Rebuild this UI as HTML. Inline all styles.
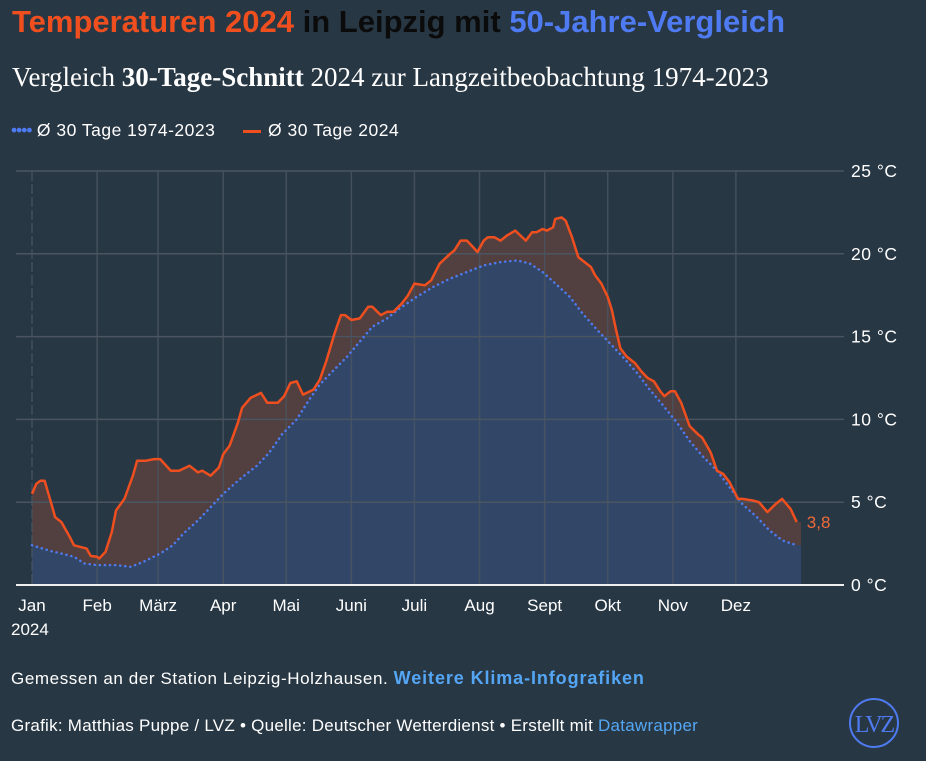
<!DOCTYPE html>
<html><head><meta charset="utf-8"><style>
body{margin:0;background:#283744;width:926px;height:761px;overflow:hidden;font-family:"Liberation Sans",sans-serif;color:#fff}
.t{position:absolute;left:12px;top:4px;font-family:"Liberation Sans Narrow","Liberation Sans",sans-serif;font-weight:bold;font-size:31px;white-space:nowrap}
.s{position:absolute;left:12px;top:62px;font-family:"Liberation Serif",serif;font-size:27px;white-space:nowrap}
.l{position:absolute;top:120px;font-size:17.5px;letter-spacing:0.5px;white-space:nowrap}
.f{position:absolute;left:11px;font-size:17px;white-space:nowrap}
</style></head><body>
<div class="t"><span style="color:#ef4f1f">Temperaturen 2024</span> <span style="color:#0b0b0b">in Leipzig mit</span> <span style="color:#4f7bf2">50-Jahre-Vergleich</span></div>
<div class="s">Vergleich <b>30-Tage-Schnitt</b> 2024 zur Langzeitbeobachtung 1974-2023</div>
<div class="l" style="left:11px"><span style="color:#4f7bf2;letter-spacing:-1px">••••</span> Ø 30 Tage 1974-2023</div>
<div class="l" style="left:243px"><span style="display:inline-block;width:18px;height:3px;background:#ef4f1f;vertical-align:middle;margin-right:7px"></span>Ø 30 Tage 2024</div>
<svg id="chart" width="926" height="761" style="position:absolute;left:0;top:0"></svg>
<div class="f" style="top:668px;letter-spacing:0.6px">Gemessen an der Station Leipzig-Holzhausen. <b style="color:#54a6f5;font-size:18px;letter-spacing:0.9px">Weitere Klima-Infografiken</b></div>
<div class="f" style="top:716px;letter-spacing:0.25px">Grafik: Matthias Puppe / LVZ • Quelle: Deutscher Wetterdienst • Erstellt mit <span style="color:#54a6f5">Datawrapper</span></div>
<div style="position:absolute;left:849px;top:698px;width:50px;height:50px;border:2px solid #4f7bf2;border-radius:50%;color:#4f7bf2;font-family:'Liberation Serif',serif;font-size:24px;line-height:50px;text-align:center;box-sizing:border-box;letter-spacing:-2px">LVZ</div>
<script>
const days2024=[0,2,4,6,9,11,14,18,20,23,26,28,31,32,35,38,40,44,48,50,54,58,61,66,70,75,79,81,85,89,91,94,98,100,104,109,112,117,120,123,126,129,134,137,140,144,147,149,152,156,160,162,166,169,172,176,179,182,187,190,194,199,201,204,207,210,212,215,217,220,223,226,230,235,238,240,243,245,248,249,252,254,257,260,263,266,268,271,274,276,278,280,283,287,290,293,296,299,301,304,306,309,313,317,319,323,326,329,332,336,338,343,346,350,354,357,361,364];
const temps2024=[5.5,6.1,6.3,6.3,5.0,4.1,3.8,2.9,2.4,2.3,2.2,1.75,1.7,1.6,2.0,3.2,4.5,5.2,6.6,7.5,7.5,7.6,7.6,6.9,6.9,7.2,6.8,6.9,6.6,7.1,7.9,8.4,9.8,10.7,11.3,11.6,11.0,11.0,11.4,12.2,12.3,11.5,11.8,12.4,13.5,15.2,16.3,16.3,16.0,16.1,16.8,16.8,16.3,16.5,16.5,17.0,17.5,18.2,18.1,18.4,19.4,20.0,20.2,20.8,20.8,20.4,20.1,20.8,21.0,21.0,20.8,21.1,21.4,20.8,21.3,21.3,21.5,21.4,21.6,22.1,22.2,22.0,21.0,19.8,19.5,19.2,18.7,18.2,17.4,16.6,15.4,14.3,13.8,13.4,12.9,12.5,12.3,11.7,11.4,11.7,11.7,11.0,9.6,9.1,8.9,8.0,6.9,6.7,6.2,5.2,5.2,5.1,5.0,4.4,4.9,5.2,4.6,3.8];
const daysAvg=[0,9,14,20,25,31,40,47,53,61,67,72,79,85,91,99,107,113,119,126,132,137,143,150,156,162,169,175,183,191,199,207,215,223,231,237,243,250,256,262,269,275,281,288,294,300,307,313,319,326,332,338,345,351,357,364];
const tempsAvg=[2.4,2.05,1.9,1.7,1.3,1.2,1.2,1.1,1.4,1.9,2.4,3.1,3.9,4.7,5.5,6.4,7.2,8.0,9.1,10.0,11.2,12.1,12.9,13.8,14.7,15.6,16.1,16.7,17.4,18.0,18.5,18.9,19.3,19.5,19.6,19.4,18.9,18.1,17.4,16.4,15.4,14.6,13.8,12.8,11.8,10.9,9.8,8.7,7.8,6.9,5.9,4.9,4.1,3.3,2.7,2.4];
const yTicks=[0,5,10,15,20,25];
const months=["Jan","Feb","März","Apr","Mai","Juni","Juli","Aug","Sept","Okt","Nov","Dez"];
const monthStart=[0,31,60,91,121,152,182,213,244,274,305,335];
const lastLabel="3,8";
const X=d=>32+d*(769/366), Y=t=>585-t*16.56;
const svg=document.getElementById('chart'),NS='http://www.w3.org/2000/svg';
function mk(tag,a,p){const e=document.createElementNS(NS,tag);for(const k in a)e.setAttribute(k,a[k]);(p||svg).appendChild(e);return e;}
const pts=(ds,vs)=>ds.map((d,i)=>X(d).toFixed(1)+','+Y(vs[i]).toFixed(1)).join(' ');
const base0=Y(0),xEnd=X(366);
let e=mk('polygon',{points:X(0)+','+base0+' '+pts(days2024,temps2024)+' '+xEnd+','+Y(temps2024[temps2024.length-1])+' '+xEnd+','+base0,fill:'#523f3f'});


e=mk('polygon',{points:X(0)+','+base0+' '+pts(daysAvg,tempsAvg)+' '+xEnd+','+Y(tempsAvg[tempsAvg.length-1])+' '+xEnd+','+base0,fill:'#324768'});


yTicks.forEach(t=>{
 const g=mk('line',{x1:16,x2:844,y1:Y(t),y2:Y(t),stroke:t===0?'#eeeeee':'#4a5561','stroke-width':t===0?2:1.5});
 
 
 const tx=mk('text',{x:851,y:Y(t)+6,fill:'#fff','font-size':17.5,'letter-spacing':0.5,'font-family':'Liberation Sans, sans-serif'});tx.textContent=t+' °C';
 
 
});
monthStart.forEach((d,i)=>{
 const g=mk('line',{x1:X(d),x2:X(d),y1:Y(25),y2:base0-1,stroke:'#4a5561','stroke-width':1.5,'stroke-opacity':0.8,'stroke-dasharray':i===0?'10,3':''});
 
 
 const tx=mk('text',{x:X(d),y:611,fill:'#fff','font-size':17,'text-anchor':'middle','font-family':'Liberation Sans, sans-serif'});tx.textContent=months[i];
 
 
});
e=mk('text',{x:11,y:635,fill:'#fff','font-size':17,'font-family':'Liberation Sans, sans-serif'});e.textContent='2024';


e=mk('polyline',{points:pts(daysAvg,tempsAvg),fill:'none',stroke:'#4f7bf2','stroke-width':2.5,'stroke-dasharray':'0.1,5','stroke-linecap':'round'});


e=mk('polyline',{points:pts(days2024,temps2024),fill:'none',stroke:'#ef4f1f','stroke-width':2.5,'stroke-linejoin':'round'});


const li=days2024.length-1;
e=mk('text',{x:X(days2024[li])+10,y:Y(temps2024[li])+6,fill:'#ef6a3a','font-size':17,'font-family':'Liberation Sans, sans-serif'});e.textContent=lastLabel;


</script>
</body></html>
